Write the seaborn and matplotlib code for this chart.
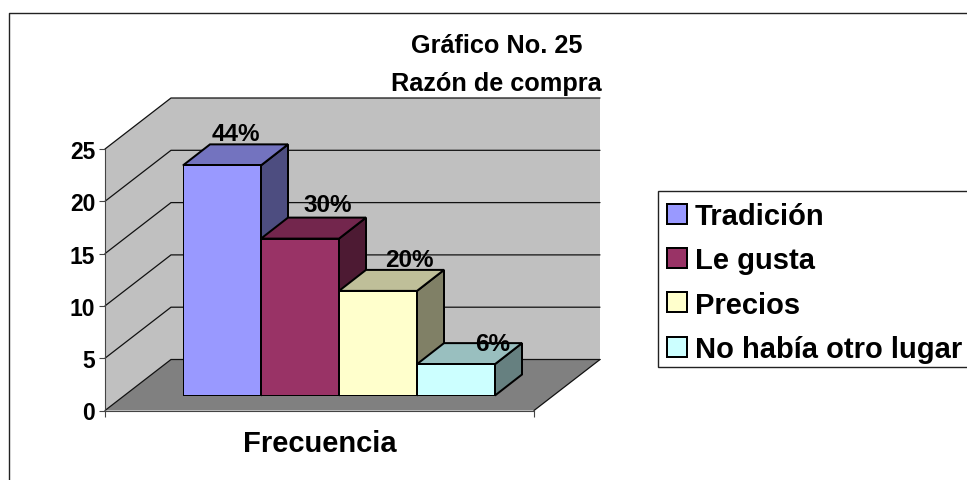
import matplotlib
matplotlib.use("Agg")
import matplotlib.pyplot as plt
import seaborn as sns
from matplotlib.patches import Patch, Polygon, Rectangle
from matplotlib.colors import to_rgb

categories = ["Tradición", "Le gusta", "Precios", "No había otro lugar"]
values = [22, 15, 10, 3]
percent_labels = ["44%", "30%", "20%", "6%"]
value_ticks = [0, 5, 10, 15, 20, 25]
bar_colors = ["#9999FF", "#993366", "#FFFFCC", "#CCFFFF"]
title_lines = ["Gráfico No. 25", "Razón de compra"]
axis_label = "Frecuencia"

# layout, all in image pixels
W, H = 967, 481
FONT = "Liberation Sans"
AXIS_LEFT, AXIS_RIGHT, AXIS_BOTTOM, AXIS_TOP = 105, 534, 411.5, 150
WALL_DX, WALL_DY = 66, -51
BAR_LEFT, BAR_RIGHT, BAR_BOTTOM = 183, 495, 396.5
BAR_DX, BAR_DY = 27, -21
LABEL_POS = [(236, 134.5), (328, 205.5), (409, 260.5), (493, 344.5)]
EDGE = 2.0 * 0.72

sns.set_theme(style="white")
plt.rcParams["font.family"] = [FONT, "DejaVu Sans"]
plt.rcParams["font.weight"] = "bold"


def box(left, right, bottom, top):
    return [left / W, 1 - bottom / H, (right - left) / W, (bottom - top) / H]


fig = plt.figure(figsize=(W / 100, H / 100), dpi=100, facecolor="white")

# ===== pixel layer: frame, walls, floor =====
bg = fig.add_axes([0, 0, 1, 1], zorder=0)
bg.set_xlim(0, W)
bg.set_ylim(H, 0)
bg.axis("off")

bg.plot([8.5, 8.5, W], [H, 14, 14], color="#222222", lw=1.0)

y_scale = (AXIS_BOTTOM - AXIS_TOP) / value_ticks[-1]
back_left = AXIS_LEFT + WALL_DX
back_right = AXIS_RIGHT + WALL_DX
bg.add_patch(Polygon(
    [(AXIS_LEFT, AXIS_TOP), (back_left, AXIS_TOP + WALL_DY), (back_right, AXIS_TOP + WALL_DY),
     (back_right, AXIS_BOTTOM + WALL_DY), (back_left, AXIS_BOTTOM + WALL_DY), (AXIS_LEFT, AXIS_BOTTOM)],
    facecolor="#C0C0C0", edgecolor="none"))
bg.add_patch(Polygon(
    [(AXIS_LEFT, AXIS_BOTTOM), (back_left, AXIS_BOTTOM + WALL_DY),
     (back_right, AXIS_BOTTOM + WALL_DY), (AXIS_RIGHT, AXIS_BOTTOM)],
    facecolor="#808080", edgecolor="none"))
for tick in value_ticks:
    y = AXIS_BOTTOM - tick * y_scale
    bg.plot([AXIS_LEFT, back_left, back_right], [y, y + WALL_DY, y + WALL_DY],
            color="#111111", lw=0.9, solid_joinstyle="miter")
bg.plot([AXIS_RIGHT, back_right], [AXIS_BOTTOM, AXIS_BOTTOM + WALL_DY], color="#111111", lw=0.9)

# legend box runs past the right edge of the image
bg.add_patch(Rectangle((658, 192), 330, 176, facecolor="white", edgecolor="#222222", lw=1.0))

# ===== value axis =====
axis_ax = fig.add_axes(box(AXIS_LEFT, AXIS_RIGHT, AXIS_BOTTOM, AXIS_TOP), zorder=1)
axis_ax.patch.set_visible(False)
axis_ax.set_ylim(value_ticks[0], value_ticks[-1])
axis_ax.set_xlim(0, 1)
axis_ax.set_yticks(value_ticks)
axis_ax.set_xticks([0, 1])
axis_ax.set_xticklabels([])
axis_ax.tick_params(left=True, bottom=True, length=4, width=0.8, color="#444444", pad=3)
axis_ax.tick_params(axis="y", labelsize=16.5, labelcolor="black")
for name in ["top", "right"]:
    axis_ax.spines[name].set_visible(False)
for name in ["left", "bottom"]:
    axis_ax.spines[name].set_color("#444444")
    axis_ax.spines[name].set_linewidth(0.8)
axis_ax.set_xlabel(axis_label, fontsize=21, fontweight="bold", color="black", labelpad=6)

# ===== bars =====
ax = fig.add_axes(box(BAR_LEFT, BAR_RIGHT, BAR_BOTTOM, BAR_BOTTOM - value_ticks[-1] * y_scale), zorder=2)
ax.patch.set_visible(False)
sns.barplot(x=categories, y=values, hue=categories, palette=bar_colors, order=categories,
            hue_order=categories, dodge=False, width=1, saturation=1, edgecolor="black", linewidth=EDGE,
            legend=False, ax=ax)
ax.set_xlim(-0.5, len(categories) - 0.5)
ax.set_ylim(value_ticks[0], value_ticks[-1])
ax.set_xlabel("")
ax.set_ylabel("")
ax.set_xticks([])
ax.set_yticks([])
for name in ax.spines:
    ax.spines[name].set_visible(False)

# top and side faces follow each bar, darker shades like the 3D original
for patch, color in zip(ax.patches, bar_colors):
    x0, y0 = ax.transData.transform((patch.get_x(), patch.get_height()))
    x1, y1 = ax.transData.transform((patch.get_x() + patch.get_width(), 0))
    left, right = x0, x1
    top, bottom = H - y0, H - y1
    rgb = to_rgb(color)
    bg.add_patch(Polygon(
        [(right, top), (right + BAR_DX, top + BAR_DY), (right + BAR_DX, bottom + BAR_DY), (right, bottom)],
        facecolor=[c * 0.5 for c in rgb], edgecolor="black", lw=EDGE, zorder=5))
    bg.add_patch(Polygon(
        [(left, top), (left + BAR_DX, top + BAR_DY), (right + BAR_DX, top + BAR_DY), (right, top)],
        facecolor=[c * 0.75 for c in rgb], edgecolor="black", lw=EDGE, zorder=5))

# ===== labels and title =====
fg = fig.add_axes([0, 0, 1, 1], zorder=3)
fg.set_xlim(0, W)
fg.set_ylim(H, 0)
fg.axis("off")
for text, (x, y) in zip(percent_labels, LABEL_POS):
    fg.text(x, y, text, ha="center", va="center", fontsize=17.5, fontweight="bold", color="black")
fg.text(496.5, 46, title_lines[0], ha="center", va="center", fontsize=18.2, fontweight="bold", color="black")
fg.text(496.5, 84, title_lines[1], ha="center", va="center", fontsize=18.2, fontweight="bold", color="black")

handles = [Patch(facecolor=c, edgecolor="black", linewidth=EDGE) for c in bar_colors]
legend = fg.legend(handles, categories, loc="upper left",
                   bbox_to_anchor=(658.5 / W, 1 - 194.5 / H), bbox_transform=fig.transFigure,
                   fontsize=21, labelcolor="black", frameon=False,
                   handlelength=0.68, handleheight=0.68, handletextpad=0.27,
                   labelspacing=0.56, borderpad=0.29, borderaxespad=0)

fig.savefig("out.png", dpi=100)
